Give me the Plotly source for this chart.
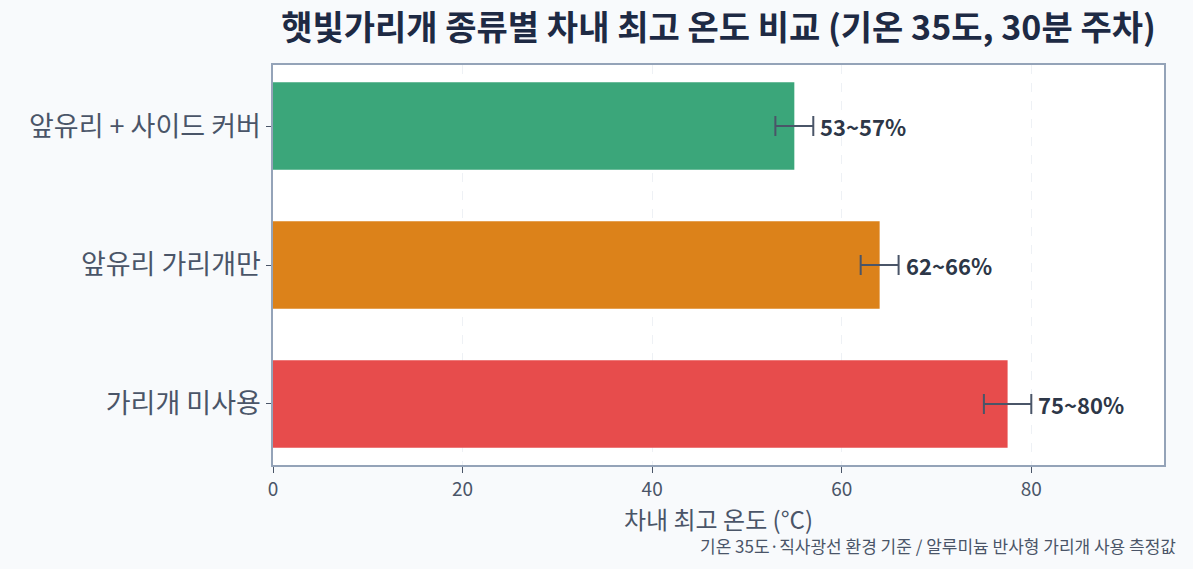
import plotly.graph_objects as go

CATEGORIES = ["가리개 미사용", "앞유리 가리개만", "앞유리 + 사이드 커버"]
TEMP_LOW = [75, 62, 53]
TEMP_HIGH = [80, 66, 57]
LABELS = ["75~80%", "62~66%", "53~57%"]
COLORS = ["#e74c4c", "#dc821a", "#3ba67a"]

FONT = "Noto Sans CJK KR"

# bar = midpoint of range, error bar = half range
mid = [(lo + hi) / 2 for lo, hi in zip(TEMP_LOW, TEMP_HIGH)]
half = [(hi - lo) / 2 for lo, hi in zip(TEMP_LOW, TEMP_HIGH)]

fig = go.Figure()
fig.add_trace(go.Bar(
    x=mid, y=CATEGORIES, orientation="h",
    marker=dict(color=COLORS, line=dict(width=0)),
    width=0.63,
    error_x=dict(type="data", array=half, visible=True,
                 color="#4a5568", thickness=2, width=10),
    hoverinfo="skip",
))

for cat, hi, lab in zip(CATEGORIES, TEMP_HIGH, LABELS):
    fig.add_annotation(x=hi, y=cat, text=f"<b>{lab}</b>", showarrow=False,
                       xanchor="left", xshift=5,
                       font=dict(family=FONT, size=22, color="#2d3748"))

fig.add_annotation(text="기온 35도·직사광선 환경 기준 / 알루미늄 반사형 가리개 사용 측정값",
                   xref="paper", yref="paper", x=1.0157, y=-0.2, xanchor="right",
                   yanchor="middle", showarrow=False,
                   font=dict(family=FONT, size=17, color="#4a5568"))

fig.update_layout(
    width=1193, height=569,
    title=dict(text="<b>햇빛가리개 종류별 차내 최고 온도 비교 (기온 35도, 30분 주차)</b>",
               x=0.5, xref="paper", xanchor="center", y=0.951, yanchor="middle",
               font=dict(family=FONT, size=34, color="#1e2a44")),
    paper_bgcolor="#f8fafc",
    plot_bgcolor="white",
    showlegend=False,
    margin=dict(l=273, r=29, t=65, b=104),
    font=dict(family=FONT, color="#4a5568"),
    xaxis=dict(range=[0, 94], tickvals=[0, 20, 40, 60, 80],
               showgrid=True, gridcolor="#eef1f5", griddash="dash", gridwidth=1,
               zeroline=False, showline=True, linecolor="#94a3b8", linewidth=1.5,
               mirror=True, ticks="outside", ticklen=6, tickcolor="#4a5568",
               tickfont=dict(family=FONT, size=19, color="#4a5568"),
               title=dict(text="차내 최고 온도 (°C)", standoff=4,
                          font=dict(family=FONT, size=24, color="#4a5568"))),
    yaxis=dict(range=[-0.44, 2.44], showgrid=False, showline=True,
               linecolor="#94a3b8", linewidth=1.5, mirror=True,
               ticks="outside", ticklen=5, tickcolor="#4a5568",
               tickfont=dict(family=FONT, size=27, color="#4a5568")),
)

fig.write_html("out.html", config={"displayModeBar": False},
               post_script="document.body.style.margin='0';")
